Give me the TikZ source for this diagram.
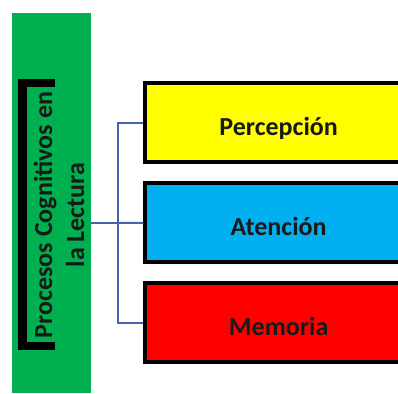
\documentclass[tikz,border=0pt]{standalone}
\usepackage{fontspec}
\setmainfont{Carlito}
\definecolor{pgreen}{HTML}{00B050}
\definecolor{pyellow}{HTML}{FFFF00}
\definecolor{pblue}{HTML}{00B0F0}
\definecolor{pred}{HTML}{FF0000}
\definecolor{plink}{HTML}{4565AA}
\tikzset{
  item/.style={draw=black, line width=4pt, minimum width=266.7pt, minimum height=79pt,
    inner sep=0pt, text height=25pt, text depth=0pt,
    font=\fontsize{26}{31}\selectfont\bfseries, text=black!90},
  link/.style={draw=plink, line width=2pt},
  bracketline/.style={draw=black, line width=8.5pt, line join=miter}
}
\begin{document}
\begin{tikzpicture}[x=1pt, y=-1pt]
\useasboundingbox (0,0) rectangle (398,393);
\clip (0,0) rectangle (398,393);
\node[fill=pgreen, inner sep=0pt, minimum width=79.3pt, minimum height=380pt] (g) at (51.35,203) {};
\draw[bracketline] (55,83) -- (22.5,83) -- (22.5,346) -- (55,346);
\node[rotate=90, align=center, inner sep=0pt, font=\fontsize{26}{32}\selectfont\bfseries, text=black!90] (t) at (59,215) {Procesos Cognitivos en\\la Lectura};
\node[item, fill=pyellow] (p) at (278.65,122.5) {Percepción};
\node[item, fill=pblue] (a) at (278.65,222.8) {Atención};
\node[item, fill=pred] (m) at (278.65,322.5) {Memoria};
\coordinate (hub) at (118,223);
\draw[link] (g.east |- hub) -- (hub);
\draw[link] (hub) |- (p.west);
\draw[link] (hub) -- (a.west);
\draw[link] (hub) |- (m.west);
\end{tikzpicture}
\end{document}
